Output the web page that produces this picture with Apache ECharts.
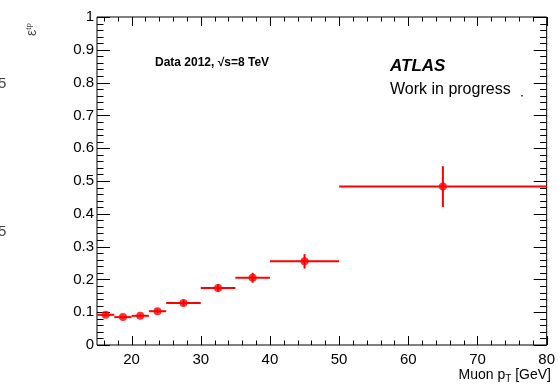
<!DOCTYPE html>
<html>
<head>
<meta charset="utf-8">
<script src="https://cdn.jsdelivr.net/npm/echarts@6/dist/echarts.min.js"></script>
<style>
  html, body { margin: 0; padding: 0; background: #fff; }
  #main { width: 558px; height: 392px; }
</style>
</head>
<body>
<div id="main"></div>
<script>
// bins of muon pT [GeV]
var binLo = [15, 17.5, 20, 22.5, 25, 30, 35, 40, 50];
var binHi = [17.5, 20, 22.5, 25, 30, 35, 40, 50, 80];
var binCenter = [16.25, 18.75, 21.25, 23.75, 27.5, 32.5, 37.5, 45, 65];
// efficiency and its error
var effValues = [0.092, 0.085, 0.089, 0.103, 0.128, 0.174, 0.205, 0.255, 0.483];
var effErr = [0.005, 0.004, 0.004, 0.006, 0.009, 0.011, 0.015, 0.022, 0.062];

// ticks
var xMajor = [20, 30, 40, 50, 60, 70, 80];
var xMinor = [16, 18, 22, 24, 26, 28, 32, 34, 36, 38, 42, 44, 46, 48, 52, 54, 56, 58, 62, 64, 66, 68, 72, 74, 76, 78];
var yMajor = [0, 0.1, 0.2, 0.3, 0.4, 0.5, 0.6, 0.7, 0.8, 0.9, 1];
var yMinor = [0.02, 0.04, 0.06, 0.08, 0.12, 0.14, 0.16, 0.18, 0.22, 0.24, 0.26, 0.28, 0.32, 0.34, 0.36, 0.38,
              0.42, 0.44, 0.46, 0.48, 0.52, 0.54, 0.56, 0.58, 0.62, 0.64, 0.66, 0.68, 0.72, 0.74, 0.76, 0.78,
              0.82, 0.84, 0.86, 0.88, 0.92, 0.94, 0.96, 0.98];

var font = 'Liberation Sans, Arial, Helvetica, sans-serif';
var chart = echarts.init(document.getElementById('main'));

var pts = binCenter.map(function (x, i) { return [x, effValues[i], binLo[i], binHi[i], effErr[i]]; });

// tick marks drawn by hand (axisTick would not show): [value, kind]
// kind 0: x major, 1: x minor, 2: y major, 3: y minor
var tickData = [];
xMajor.forEach(function (v) { tickData.push([v, 0, 0]); });
xMinor.forEach(function (v) { tickData.push([v, 0, 1]); });
yMajor.forEach(function (v) { tickData.push([15, v, 2]); });
yMinor.forEach(function (v) { tickData.push([15, v, 3]); });

var tickLen = [9, 4.5, 13, 6.5];

var option = {
    animation: false,
    backgroundColor: '#fff',
    grid: { left: 97, right: 7, top: 17, bottom: 47, show: true, borderColor: '#000', borderWidth: 1, backgroundColor: 'transparent' },
    xAxis: {
        type: 'value', min: 15, max: 80,
        axisLine: { show: false },
        axisTick: { show: false },
        axisLabel: { show: true, customValues: xMajor, color: '#000', fontSize: 15, fontFamily: font, margin: 7 },
        splitLine: { show: false }
    },
    yAxis: {
        type: 'value', min: 0, max: 1, interval: 0.1,
        axisLine: { show: false },
        axisTick: { show: false },
        axisLabel: {
            show: true, color: '#000', fontSize: 15, fontFamily: font, margin: 3,
            formatter: function (v) { return v === 0 || v === 1 ? String(v) : v.toFixed(1); }
        },
        splitLine: { show: false }
    },
    series: [
        {
            type: 'custom',
            data: tickData,
            clip: false,
            silent: true,
            renderItem: function (params, api) {
                var cs = params.coordSys;
                var kind = api.value(2);
                var len = tickLen[kind];
                var st = { stroke: '#000', lineWidth: 1 };
                if (kind < 2) {
                    var px = Math.round(api.coord([api.value(0), 0])[0]) + 0.5;
                    var yb = cs.y + cs.height, yt = cs.y;
                    return {
                        type: 'group',
                        children: [
                            { type: 'line', shape: { x1: px, y1: yb, x2: px, y2: yb - len }, style: st },
                            { type: 'line', shape: { x1: px, y1: yt, x2: px, y2: yt + len }, style: st }
                        ]
                    };
                }
                var py = Math.round(api.coord([15, api.value(1)])[1]) + 0.5;
                var xl = cs.x, xr = cs.x + cs.width;
                return {
                    type: 'group',
                    children: [
                        { type: 'line', shape: { x1: xl, y1: py, x2: xl + len, y2: py }, style: st },
                        { type: 'line', shape: { x1: xr, y1: py, x2: xr - len, y2: py }, style: st }
                    ]
                };
            },
            z: 1
        },
        {
            type: 'custom',
            data: pts,
            renderItem: function (params, api) {
                var c = api.coord([api.value(0), api.value(1)]);
                var l = api.coord([api.value(2), api.value(1)]);
                var r = api.coord([api.value(3), api.value(1)]);
                var t = api.coord([api.value(0), api.value(1) + api.value(4)]);
                var b = api.coord([api.value(0), api.value(1) - api.value(4)]);
                var st = { stroke: '#ff0000', lineWidth: 2 };
                return {
                    type: 'group',
                    children: [
                        { type: 'line', shape: { x1: l[0], y1: c[1], x2: r[0], y2: c[1] }, style: st },
                        { type: 'line', shape: { x1: c[0], y1: t[1], x2: c[0], y2: b[1] }, style: st }
                    ]
                };
            },
            encode: { x: 0, y: 1 },
            z: 2
        },
        {
            type: 'scatter',
            data: pts.map(function (p) { return [p[0], p[1]]; }),
            symbol: 'circle', symbolSize: 8,
            itemStyle: { color: '#ff0000' },
            z: 3
        }
    ],
    graphic: [
        { type: 'text', left: 155, top: 57, style: { text: 'Data 2012, √s=8 TeV', font: 'bold 12px ' + font, fill: '#000' } },
        { type: 'text', left: 390, top: 58, style: { text: 'ATLAS', font: 'italic bold 17px ' + font, fill: '#000' } },
        { type: 'text', left: 390, top: 82, style: { text: 'Work in progress', font: '16px ' + font, fill: '#000' } },
        { type: 'rect', shape: { x: 521, y: 95, width: 2, height: 1.5 }, style: { fill: '#555' } },
        {
            type: 'text', x: 25, y: 36, rotation: Math.PI / 2,
            style: {
                text: '{e|ε}{s|tp}', fill: '#444',
                rich: { e: { fontSize: 14, fontFamily: font, fill: '#444' }, s: { fontSize: 8, fontFamily: font, fill: '#444', verticalAlign: 'top' } }
            }
        },
        { type: 'text', left: -2, top: 76, style: { text: '5', font: '15px ' + font, fill: '#444' } },
        { type: 'text', left: -2, top: 224, style: { text: '5', font: '15px ' + font, fill: '#444' } },
        {
            type: 'text', right: 7, top: 368,
            style: {
                text: 'Muon p{sub|T} [GeV]', font: '14px ' + font, fill: '#000',
                rich: { sub: { fontSize: 10, fontFamily: font, fill: '#000', padding: [9, 0, 0, 0] } }
            }
        }
    ]
};

chart.setOption(option);
</script>
</body>
</html>
